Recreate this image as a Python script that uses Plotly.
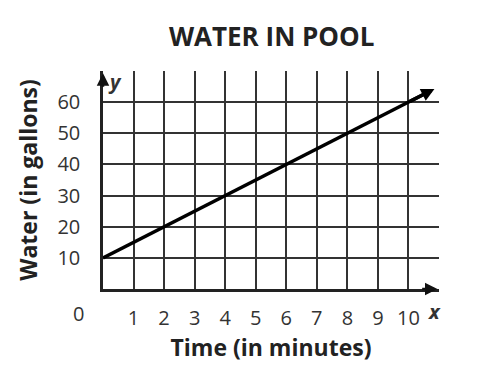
import plotly.graph_objects as go

# Data
time_min = [0, 2, 4, 6, 8, 10, 10.6]
water_gal = [10, 20, 30, 40, 50, 60, 63]
arrow_tip = (10.85, 64.25)
x_ticks = [0, 1, 2, 3, 4, 5, 6, 7, 8, 9, 10, 11]
x_ticktext = ["", "1", "2", "3", "4", "5", "6", "7", "8", "9", "10", ""]
y_ticks = [0, 10, 20, 30, 40, 50, 60, 70]
y_ticktext = ["", "10", "20", "30", "40", "50", "60", ""]

TICKFONT = dict(family="Open Sans, Liberation Sans, sans-serif", size=20, color="#333")
BOLD = "Open Sans, sans-serif"

fig = go.Figure()
fig.add_trace(go.Scatter(
    x=time_min, y=water_gal, mode="lines",
    line=dict(color="black", width=3.5),
    showlegend=False, hoverinfo="skip",
))

fig.update_layout(
    width=480, height=367,
    margin=dict(l=103, r=41, t=71, b=78),
    paper_bgcolor="white", plot_bgcolor="white",
    title=dict(text="<b>WATER IN POOL</b>", x=0.566, xanchor="center",
               y=1 - 37 / 367, yanchor="middle",
               font=dict(family=BOLD, size=26, color="#222")),
    xaxis=dict(range=[0, 11], tickvals=x_ticks, ticktext=x_ticktext,
               showgrid=True, gridcolor="#333", gridwidth=1.5,
               zeroline=False, showline=True, linecolor="#222", linewidth=2.5,
               mirror=False, ticks="outside", ticklen=9, tickcolor="rgba(0,0,0,0)",
               tickfont=TICKFONT, fixedrange=True,
               title=dict(text="<b>Time (in minutes)</b>", standoff=6,
                          font=dict(family=BOLD, size=23, color="#222"))),
    yaxis=dict(range=[0, 70], tickvals=y_ticks, ticktext=y_ticktext,
               showgrid=True, gridcolor="#333", gridwidth=1.5,
               zeroline=False, showline=True, linecolor="#222", linewidth=2.5,
               ticks="outside", ticklen=16, tickcolor="rgba(0,0,0,0)",
               tickfont=TICKFONT, fixedrange=True,
               title=dict(text="<b>Water (in gallons)</b>", standoff=14,
                          font=dict(family=BOLD, size=23, color="#222"))),
)

# Arrowhead of the data line
fig.add_annotation(x=arrow_tip[0], y=arrow_tip[1], ax=time_min[-2], ay=water_gal[-2],
                   xref="x", yref="y", axref="x", ayref="y",
                   showarrow=True, arrowhead=2, arrowsize=0.75, arrowwidth=3.5,
                   arrowcolor="black", text="")
# Axis arrows
fig.add_annotation(x=10.95, y=0, ax=10.4, ay=0, xref="x", yref="y", axref="x", ayref="y",
                   showarrow=True, arrowhead=2, arrowsize=1, arrowwidth=2.5, arrowcolor="#111", text="")
fig.add_annotation(x=0, y=69.3, ax=0, ay=64.5, xref="x", yref="y", axref="x", ayref="y",
                   showarrow=True, arrowhead=2, arrowsize=1, arrowwidth=2.5, arrowcolor="#111", text="")
# Axis letters and origin label
fig.add_annotation(x=0.4, y=66.5, xref="x", yref="y", text="<b><i>y</i></b>", showarrow=False,
                   font=dict(family="Open Sans, sans-serif", size=20, color="#333"))
fig.add_annotation(x=10.85, y=0, xref="x", yref="y", yshift=-22, text="<b><i>x</i></b>", showarrow=False,
                   font=dict(family="Open Sans, sans-serif", size=20, color="#333"))
fig.add_annotation(x=0, y=0, xref="x", yref="y", xshift=-25, yshift=-24, text="0", showarrow=False,
                   font=TICKFONT)

fig.write_html("out.html")
